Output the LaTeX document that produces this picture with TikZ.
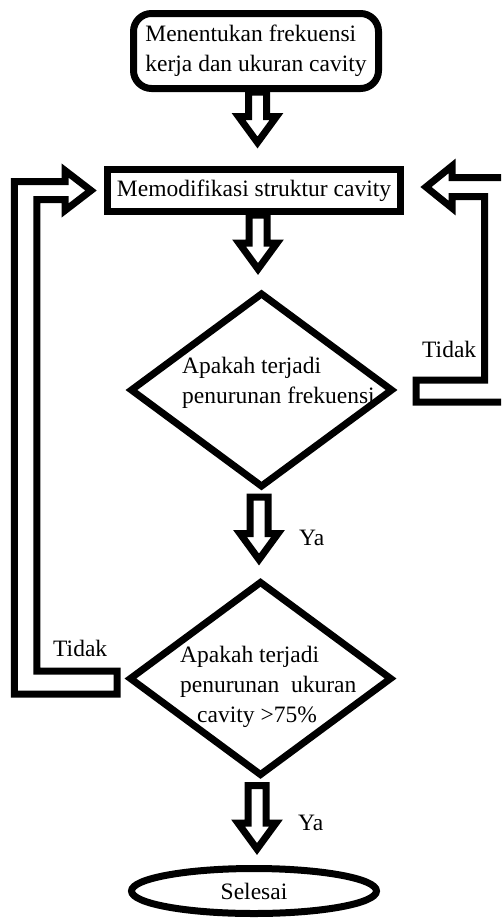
\documentclass[tikz,border=0pt]{standalone}
\usepackage{fontspec}
\setmainfont{Liberation Serif}
\usetikzlibrary{shapes.geometric,calc}

\newcommand{\fatdown}[2]{\draw[hollow] ($(#2 |- #1)+(-9,0)$) -- ($(#2)+(-9,-26)$) -- ($(#2)+(-19,-26)$) -- (#2) -- ($(#2)+(19,-26)$) -- ($(#2)+(9,-26)$) -- ($(#2 |- #1)+(9,0)$) -- cycle;}

\begin{document}
\begin{tikzpicture}[x=1pt,y=-1pt]
        \tikzstyle{every node}=[font=\fontsize{23.5}{30}\selectfont, inner sep=0pt]
        \tikzstyle{hollow}=[draw=black, fill=white, line width=7pt]
        \tikzstyle{terminal}=[draw, line width=7pt, rounded corners=18pt, minimum width=245pt, minimum height=75pt, align=left]
        \tikzstyle{process}=[draw, line width=7pt, minimum width=293pt, minimum height=42pt]
        \tikzstyle{decision}=[draw, diamond, line width=7pt, minimum width=263pt, minimum height=195pt]
        \tikzstyle{stop}=[draw, ellipse, line width=7pt, minimum width=245pt, minimum height=45pt]
        \useasboundingbox (0,0) rectangle (501,918);
        \clip (0,0) rectangle (501,918);
        \node[terminal] (start) at (256,51) {Menentukan frekuensi\\kerja dan ukuran cavity};
        \node[process] (mod) at (254,190.5) {Memodifikasi struktur cavity};
        \node[decision] (d1) at (261.5,390) {};
        \node[anchor=base west, align=left] (d1txt) at (182,403) {Apakah terjadi\\penurunan frekuensi};
        \node[decision] (d2) at (260.5,678.5) {};
        \node[anchor=base west, align=left] (d2txt) at (180,722) {Apakah terjadi\\penurunan\ \ ukuran\\\hspace*{17pt}cavity >75\%};
        \node[stop] (end) at (254,891) {Selesai};
        \node[anchor=base west] (no1) at (422,357) {Tidak};
        \node[anchor=base west] (no2) at (53,656) {Tidak};
        \node[anchor=base west] (yes1) at (299,545) {Ya};
        \node[anchor=base west] (yes2) at (298,830) {Ya};
        \coordinate (t1) at ($(mod.north)+(3.5,-23.5)$);
        \coordinate (t2) at ($(d1.north)+(-3.5,-20)$);
        \coordinate (s3) at ($(d1.south)+(0,6)$);
        \coordinate (t3) at ($(d2.north)+(-1.5,-18)$);
        \coordinate (s4) at ($(d2.south)+(0,6)$);
        \coordinate (t4) at ($(end.north)+(3,-16)$);
        \fatdown{start.south}{t1}
        \fatdown{mod.south}{t2}
        \fatdown{s3}{t3}
        \fatdown{s4}{t4}
        \coordinate (lt) at ($(mod.west)+(-13,0)$);
        \coordinate (lb) at ($(d2.west)+(-8.5,4)$);
        \coordinate (lx) at ($(lb)+(-91.5,0)$);
        \draw[hollow] ($(lb)+(0,-11.5)$) -- ($(lx |- lb)+(11.25,-11.5)$) -- ($(lx |- lt)+(11.25,9)$) -- ($(lt)+(-26,9)$) -- ($(lt)+(-26,20)$) -- (lt) -- ($(lt)+(-26,-20)$) -- ($(lt)+(-26,-9)$) -- ($(lx |- lt)+(-11.25,-9)$) -- ($(lx |- lb)+(-11.25,11.5)$) -- ($(lb)+(0,11.5)$) -- cycle;
        \coordinate (rt) at ($(mod.east)+(22,-3.5)$);
        \coordinate (rb) at ($(d1.east)+(19.5,1)$);
        \coordinate (rx) at ($(rb)+(80.5,0)$);
        \draw[hollow] ($(rb)+(0,-11)$) -- ($(rx |- rb)+(-12,-11)$) -- ($(rx |- rt)+(-12,9.5)$) -- ($(rt)+(26,9.5)$) -- ($(rt)+(26,21)$) -- (rt) -- ($(rt)+(26,-21)$) -- ($(rt)+(26,-9.5)$) -- ($(rx |- rt)+(12,-9.5)$) -- ($(rx |- rb)+(12,11)$) -- ($(rb)+(0,11)$) -- cycle;
    \end{tikzpicture}
\end{document}
